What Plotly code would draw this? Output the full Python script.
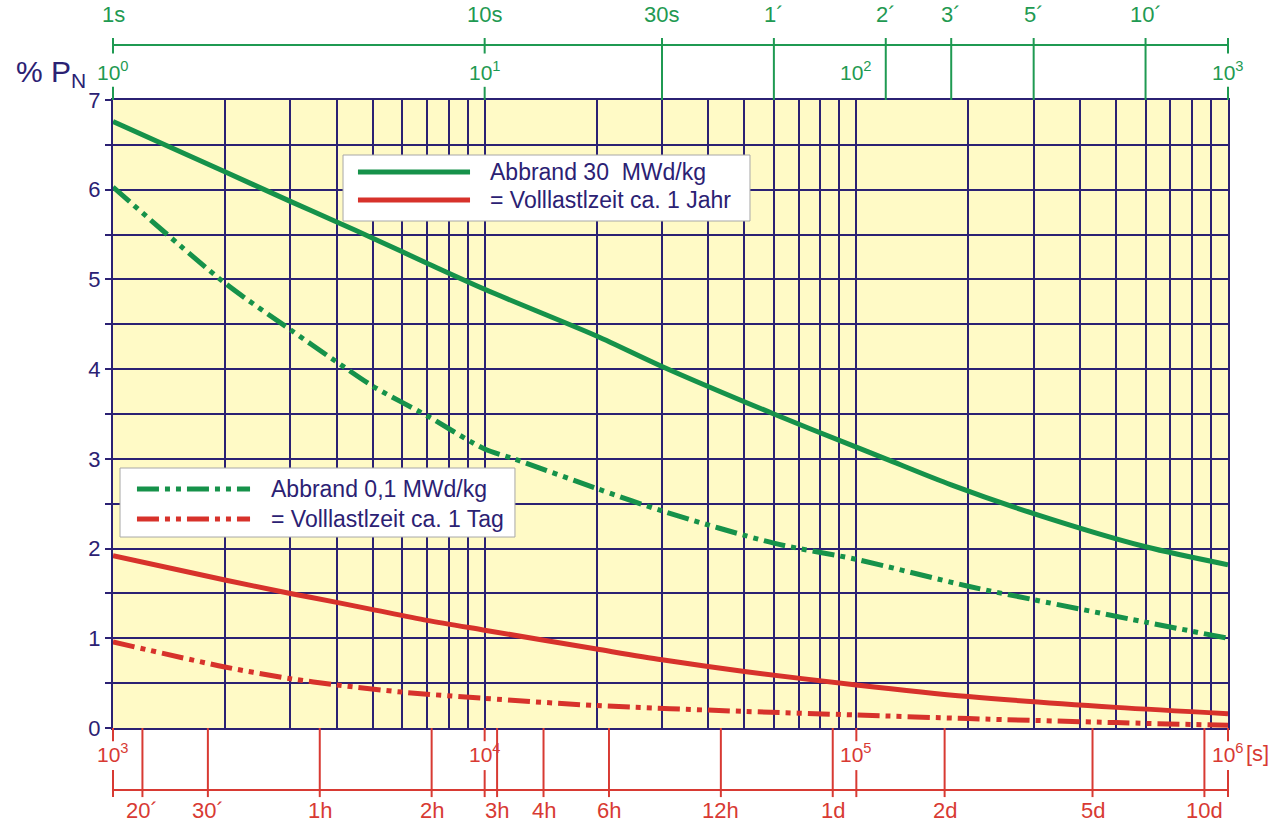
import numpy as np
import plotly.graph_objects as go

# ---- decay heat in % of nominal power -------------------------------------
# short times (1 s ... 1000 s), read on the upper (green) time axis
t_short_30 = [1, 2, 3, 4, 5, 7, 10, 20, 30, 60, 100, 120, 180, 300, 600, 1000]
p_short_30 = [6.76, 6.20, 5.87, 5.64, 5.46, 5.18, 4.89, 4.37, 4.03, 3.50, 3.13, 3.00, 2.71, 2.39, 2.02, 1.82]

t_short_01 = [1, 2, 3, 4, 5, 7, 10, 12, 20, 30, 60, 100, 200, 300, 600, 1000]
p_short_01 = [6.03, 4.96, 4.44, 4.08, 3.81, 3.48, 3.11, 3.00, 2.67, 2.42, 2.06, 1.88, 1.58, 1.43, 1.18, 1.00]

# long times (1e3 s ... 1e6 s), read on the lower (red) time axis
t_long_30 = [1e3, 2e3, 3e3, 4e3, 5e3, 7e3, 1e4, 2e4, 3e4, 5e4, 1e5, 2e5, 5e5, 1e6]
p_long_30 = [1.92, 1.65, 1.50, 1.40, 1.32, 1.20, 1.09, 0.88, 0.76, 0.63, 0.48, 0.35, 0.23, 0.16]

t_long_01 = [1e3, 2e3, 3e3, 4e3, 6e3, 1e4, 2e4, 5e4, 1e5, 2e5, 5e5, 1e6]
p_long_01 = [0.96, 0.68, 0.55, 0.48, 0.40, 0.33, 0.25, 0.185, 0.145, 0.105, 0.06, 0.03]

# ---- axis annotations --------------------------------------------------------
top_tick_s = [30, 60, 120, 180, 300, 600]
top_tick_text = ["30s", "1´", "2´", "3´", "5´", "10´"]
top_decade_s = [1, 10, 100, 1000]
top_decade_text = ["10<sup>0</sup>", "10<sup>1</sup>", "10<sup>2</sup>", "10<sup>3</sup>"]
top_decade_names = {1: "1s", 10: "10s"}

bottom_tick_s = [1200, 1800, 3600, 7200, 10800, 14400, 21600, 43200, 86400, 172800, 432000, 864000]
bottom_tick_text = ["20´", "30´", "1h", "2h", "3h", "4h", "6h", "12h", "1d", "2d", "5d", "10d"]
bottom_decade_s = [1e3, 1e4, 1e5, 1e6]
bottom_decade_text = ["10<sup>3</sup>", "10<sup>4</sup>", "10<sup>5</sup>", "10<sup>6</sup>"]

y_ticks = [i * 0.5 for i in range(15)]
y_ticktext = [str(int(v)) if v == int(v) else "" for v in y_ticks]

legend_long = ["Abbrand 30  MWd/kg", "= Volllastlzeit ca. 1 Jahr"]
legend_short = ["Abbrand 0,1 MWd/kg", "= Volllastlzeit ca. 1 Tag"]

# ---- styling ---------------------------------------------------------------
NAVY = "#2B2173"
GREEN = "#16924A"
RED = "#D7322B"
AX_GREEN = "#1F9A52"
AX_RED = "#D83A33"
BG = "#FFFAC6"
DASHDOT2 = "22px,6px,5px,6px,5px,6px"
FONT = "Liberation Sans, Arial, sans-serif"
NARROW = "Liberation Sans Narrow, Arial Narrow, Liberation Sans, Arial, sans-serif"

TOP_LO, BOT_LO = 0.0, 3.0  # log10 of the left end of each time axis


def frac(t, lo):
    """Position of time t (s) as a fraction of the 3-decade axis width."""
    return (np.log10(t) - lo) / 3.0


fig = go.Figure()

fig.add_trace(go.Scatter(x=t_short_30, y=p_short_30, xaxis="x2", mode="lines",
                         line=dict(color=GREEN, width=5, shape="spline", smoothing=0.8),
                         name=legend_long[0], showlegend=False))
fig.add_trace(go.Scatter(x=t_short_01, y=p_short_01, xaxis="x2", mode="lines",
                         line=dict(color=GREEN, width=5, shape="spline", smoothing=0.8,
                                   dash=DASHDOT2),
                         name=legend_short[0], showlegend=False))
fig.add_trace(go.Scatter(x=t_long_30, y=p_long_30, mode="lines",
                         line=dict(color=RED, width=5, shape="spline", smoothing=0.8),
                         name=legend_long[1], showlegend=False))
fig.add_trace(go.Scatter(x=t_long_01, y=p_long_01, mode="lines",
                         line=dict(color=RED, width=5, shape="spline", smoothing=0.8,
                                   dash=DASHDOT2),
                         name=legend_short[1], showlegend=False))

# grid lines at every digit of each decade
bottom_grid = [d * 10 ** e for e in range(3, 6) for d in range(1, 10)] + [1e6]

shapes = []
annotations = []

# ---- upper (green) seconds / minutes axis ---------------------------------
Y_TOP_LINE = 1.0876
shapes.append(dict(type="line", xref="x2 domain", yref="paper", x0=0, x1=1,
                   y0=Y_TOP_LINE, y1=Y_TOP_LINE, line=dict(color=AX_GREEN, width=2)))
for t, txt in zip(top_tick_s, top_tick_text):
    x = frac(t, TOP_LO)
    shapes.append(dict(type="line", xref="x2 domain", yref="paper", x0=x, x1=x,
                       y0=1.0987, y1=1.0, line=dict(color=AX_GREEN, width=2)))
    annotations.append(dict(xref="x2 domain", yref="paper", x=x, y=1.136, text=txt,
                            showarrow=False, xanchor="center", yanchor="middle",
                            font=dict(family=NARROW, size=22, color=AX_GREEN)))
for t, txt in zip(top_decade_s, top_decade_text):
    x = frac(t, TOP_LO)
    if t != 100:
        shapes.append(dict(type="line", xref="x2 domain", yref="paper", x0=x, x1=x,
                           y0=1.0987, y1=1.0740, line=dict(color=AX_GREEN, width=2)))
        shapes.append(dict(type="line", xref="x2 domain", yref="paper", x0=x, x1=x,
                           y0=1.0210, y1=1.0, line=dict(color=AX_GREEN, width=2)))
    annotations.append(dict(xref="x2 domain", yref="paper", x=x, y=1.046, text=txt,
                            showarrow=False, xanchor="center", yanchor="middle",
                            font=dict(family=NARROW, size=21, color=AX_GREEN)))
    if t in top_decade_names:
        annotations.append(dict(xref="x2 domain", yref="paper", x=x, y=1.136,
                                text=top_decade_names[t], showarrow=False,
                                xanchor="center", yanchor="middle",
                                font=dict(family=NARROW, size=22, color=AX_GREEN)))

# ---- lower (red) hours / days axis ----------------------------------------
Y_BOT_LINE = -0.0987
shapes.append(dict(type="line", xref="x domain", yref="paper", x0=0, x1=1,
                   y0=Y_BOT_LINE, y1=Y_BOT_LINE, line=dict(color=AX_RED, width=2)))
for t, txt in zip(bottom_tick_s, bottom_tick_text):
    x = frac(t, BOT_LO)
    shapes.append(dict(type="line", xref="x domain", yref="paper", x0=x, x1=x,
                       y0=0, y1=-0.110, line=dict(color=AX_RED, width=2)))
    annotations.append(dict(xref="x domain", yref="paper", x=x, y=-0.132, text=txt,
                            showarrow=False, xanchor="center", yanchor="middle",
                            font=dict(family=NARROW, size=22, color=AX_RED)))
for t, txt in zip(bottom_decade_s, bottom_decade_text):
    x = frac(t, BOT_LO)
    shapes.append(dict(type="line", xref="x domain", yref="paper", x0=x, x1=x,
                       y0=0, y1=-0.021, line=dict(color=AX_RED, width=2)))
    shapes.append(dict(type="line", xref="x domain", yref="paper", x0=x, x1=x,
                       y0=-0.067, y1=-0.110, line=dict(color=AX_RED, width=2)))
    annotations.append(dict(xref="x domain", yref="paper", x=x, y=-0.040, text=txt,
                            showarrow=False, xanchor="center", yanchor="middle",
                            font=dict(family=NARROW, size=21, color=AX_RED)))
annotations.append(dict(xref="paper", yref="paper", x=1.014, y=-0.040, text="[s]",
                        showarrow=False, xanchor="left", yanchor="middle",
                        font=dict(family=NARROW, size=22, color=AX_RED)))

# ---- y-axis title ----------------------------------------------------------
annotations.append(dict(xref="paper", yref="paper", x=-0.089, y=1.042,
                        text="% P<sub>N</sub>", showarrow=False,
                        xanchor="left", yanchor="middle",
                        font=dict(family=FONT, size=30, color=NAVY)))


# ---- legend boxes ----------------------------------------------------------
def legend_box(x0, x1, y0, y1, line_x0, line_x1, text_x, rows):
    shapes.append(dict(type="rect", xref="paper", yref="paper", x0=x0, x1=x1,
                       y0=y0, y1=y1, fillcolor="white", layer="above",
                       line=dict(color="#A8A8A8", width=1)))
    for y, color, dash, label in rows:
        shapes.append(dict(type="line", xref="paper", yref="paper", x0=line_x0,
                           x1=line_x1, y0=y, y1=y, layer="above",
                           line=dict(color=color, width=5, dash=dash)))
        annotations.append(dict(xref="paper", yref="paper", x=text_x, y=y, text=label,
                                showarrow=False, xanchor="left", yanchor="middle",
                                font=dict(family=FONT, size=23, color=NAVY)))


legend_box(0.2063, 0.5713, 0.8073, 0.9124, 0.2197, 0.3202, 0.3365,
           [(0.8854, GREEN, "solid", legend_long[0]),
            (0.8408, RED, "solid", legend_long[1])])
legend_box(0.0063, 0.3605, 0.3041, 0.4140, 0.0215, 0.1229, 0.1395,
           [(0.3806, GREEN, DASHDOT2, legend_short[0]),
            (0.3328, RED, DASHDOT2, legend_short[1])])

fig.update_layout(
    width=1278, height=823,
    margin=dict(l=113, r=50, t=100, b=95),
    paper_bgcolor="white", plot_bgcolor=BG,
    showlegend=False,
    shapes=shapes, annotations=annotations,
    xaxis=dict(type="log", range=[3, 6], tickvals=bottom_grid, showticklabels=False,
               ticks="", showgrid=True, gridcolor=NAVY, gridwidth=2, zeroline=False,
               showline=True, linecolor=NAVY, linewidth=2, mirror=True),
    xaxis2=dict(type="log", range=[0, 3], overlaying="x", side="top",
                showgrid=False, showticklabels=False, ticks="", showline=False,
                zeroline=False),
    yaxis=dict(range=[0, 7], tickvals=y_ticks, ticktext=y_ticktext, showgrid=True,
               gridcolor=NAVY, gridwidth=2, zeroline=False, ticks="outside",
               ticklen=6, tickwidth=2, tickcolor=NAVY, showline=True,
               linecolor=NAVY, linewidth=2, mirror=True,
               tickfont=dict(family=FONT, size=22, color=NAVY)),
)

fig.write_html("out.html")
